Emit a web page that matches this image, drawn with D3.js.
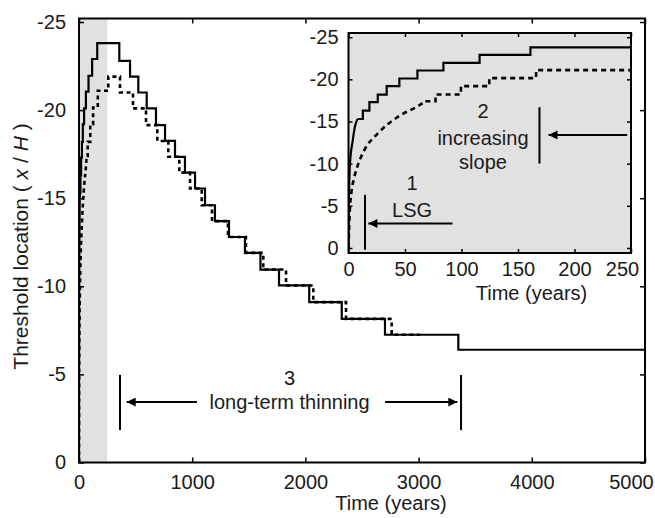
<!DOCTYPE html>
<html>
<head>
<meta charset="utf-8">
<script src="https://cdn.jsdelivr.net/npm/d3@7"></script>
<style>
body { margin: 0; background: #fff; }
svg text { font-family: "Liberation Sans", Arial, sans-serif; fill: #1a1a1a; }
</style>
</head>
<body>
<div id="vis"></div>
<script>
// solid curve: quick initial rise, then stair levels (time in years, x/H)
var solidRiseT = [0, 0.3, 1.3, 3.7, 5.7, 8];
var solidRiseV = [0, -5, -10, -12.7, -14.4, -15.3];
var solidStepT = [8, 12.7, 18.5, 25.9, 33.8, 45, 61, 84, 116, 161, 356, 451, 524, 598, 680, 760, 848, 936, 1025, 1113, 1201, 1325, 1466, 1603, 1767, 2034, 2321, 2703, 3351, 5000];
var solidStepV = [-15.3, -16.3, -17.3, -18.2, -19.2, -20.1, -21.05, -21.95, -22.9, -23.8, -22.8, -21.9, -21.0, -20.1, -19.15, -18.25, -17.35, -16.45, -15.55, -14.6, -13.7, -12.8, -11.9, -10.95, -10.05, -9.1, -8.15, -7.25, -6.4, -6.4];

// dotted curve
var dotRiseT = [0, 1, 2.5, 5, 8.2, 14, 26, 35, 48, 60, 68];
var dotRiseV = [0, -4, -6.5, -8.3, -9.8, -11.6, -13.6, -14.7, -15.9, -16.7, -17.4];
var dotStepT = [68, 77, 99.5, 124.6, 166, 259, 362, 477, 592, 692, 789, 886, 981, 1084, 1175, 1316, 1475, 1628, 1829, 2070, 2359, 2762, 3012];
var dotStepV = [-17.4, -18.2, -19.2, -20.15, -21.1, -21.9, -21.0, -20.1, -19.15, -18.25, -17.35, -16.45, -15.55, -14.6, -13.7, -12.8, -11.9, -10.95, -10.05, -9.1, -8.15, -7.25, -7.25];

var mainXTicks = [0, 1000, 2000, 3000, 4000, 5000];
var mainYTicks = [0, -5, -10, -15, -20, -25];
var insetXTicks = [0, 50, 100, 150, 200, 250];
var insetYTicks = [0, -5, -10, -15, -20, -25];
var shadeEnd = 250;

// annotations, in data units
var mainBars = [{ t: 362, v0: -4.97, v1: -1.84 }, { t: 3375, v0: -4.97, v1: -1.84 }];
var mainArrows = [{ t0: 1042, t1: 421, v: -3.43 }, { t0: 2703, t1: 3342, v: -3.43 }];
var mainNotes = [{ t: 1860, v: -4.4, s: "3" }, { t: 1860, v: -3.06, s: "long-term thinning" }];
var insetBars = [{ t: 169, v0: -16.7, v1: -10.0 }, { t: 14.6, v0: -6.3, v1: 0.2 }];
var insetArrows = [{ t0: 246.6, t1: 177, v: -13.4 }, { t0: 92, t1: 17.6, v: -2.9 }];
var insetNotes = [
    { t: 119, v: -15.4, s: "2" }, { t: 119, v: -12.2, s: "increasing" }, { t: 119, v: -9.4, s: "slope" },
    { t: 56.3, v: -6.9, s: "1" }, { t: 56.3, v: -3.7, s: "LSG" }
];

var width = 655, height = 518;
var svg = d3.select('#vis').append('svg').attr('width', width).attr('height', height);

var defs = svg.append('defs');
defs.append('marker')
    .attr('id', 'ah')
    .attr('viewBox', '0 0 10 10')
    .attr('refX', 10).attr('refY', 5)
    .attr('markerWidth', 10).attr('markerHeight', 9)
    .attr('markerUnits', 'userSpaceOnUse')
    .attr('orient', 'auto')
    .append('path').attr('d', 'M0,0L10,5L0,10z').attr('fill', '#000');

function zip(ts, vs) { return ts.map((t, i) => [t, vs[i]]); }

function panel(opts) {
    var x = d3.scaleLinear().domain(opts.xd).range(opts.xr);
    var y = d3.scaleLinear().domain(opts.yd).range(opts.yr);
    var g = svg.append('g');
    var x0 = opts.xr[0], x1 = opts.xr[1], y0 = opts.yr[1], y1 = opts.yr[0];

    defs.append('clipPath').attr('id', opts.id)
        .append('rect').attr('x', x0).attr('y', y0).attr('width', x1 - x0).attr('height', y1 - y0);

    if (opts.bg) {
        g.append('rect').attr('x', x0).attr('y', y0).attr('width', x1 - x0).attr('height', y1 - y0)
            .attr('fill', opts.bg);
    }
    if (opts.shade) {
        g.append('rect').attr('x', x(0)).attr('y', y0).attr('width', x(opts.shade) - x(0)).attr('height', y1 - y0)
            .attr('fill', '#e1e1e1');
    }

    var lines = g.append('g').attr('clip-path', 'url(#' + opts.id + ')');
    var rise = d3.line().x(d => x(d[0])).y(d => y(d[1])).curve(d3.curveMonotoneX);
    var stair = d3.line().x(d => x(d[0])).y(d => y(d[1])).curve(d3.curveStepAfter);

    [[dotRiseT, dotRiseV, dotStepT, dotStepV, true], [solidRiseT, solidRiseV, solidStepT, solidStepV, false]]
        .forEach(function (s) {
            [rise(zip(s[0], s[1])), stair(zip(s[2], s[3]))].forEach(function (d) {
                lines.append('path').attr('d', d)
                    .attr('fill', 'none').attr('stroke', '#000')
                    .attr('stroke-width', s[4] ? 2.6 : 2.2)
                    .attr('stroke-dasharray', s[4] ? opts.dash : null);
            });
        });

    // axes, inward ticks on all sides
    function style(a) {
        a.select('.domain').remove();
        a.selectAll('.tick line').attr('stroke-width', 1.5);
        a.attr('font-size', 20).attr('font-family', '"Liberation Sans", Arial, sans-serif');
        return a;
    }
    var fmt = d => String(d);
    var bx = style(g.append('g').attr('transform', 'translate(0,' + y1 + ')')
        .call(d3.axisBottom(x).tickValues(opts.xt).tickSize(-opts.tick).tickSizeOuter(0).tickPadding(opts.padX).tickFormat(fmt)));
    bx.selectAll('.tick:last-of-type text').attr('dx', opts.lastDx);
    style(g.append('g').attr('transform', 'translate(0,' + y0 + ')')
        .call(d3.axisTop(x).tickValues(opts.xt).tickSize(-opts.tick).tickSizeOuter(0).tickFormat('')));
    style(g.append('g').attr('transform', 'translate(' + x0 + ',0)')
        .call(d3.axisLeft(y).tickValues(opts.yt).tickSize(-opts.tick).tickSizeOuter(0).tickPadding(opts.padY).tickFormat(fmt)));
    style(g.append('g').attr('transform', 'translate(' + x1 + ',0)')
        .call(d3.axisRight(y).tickValues(opts.yt).tickSize(-opts.tick).tickSizeOuter(0).tickFormat('')));

    g.append('rect').attr('x', x0).attr('y', y0).attr('width', x1 - x0).attr('height', y1 - y0)
        .attr('fill', 'none').attr('stroke', '#000').attr('stroke-width', 2);

    // annotations
    opts.bars.forEach(function (b) {
        g.append('line').attr('x1', x(b.t)).attr('x2', x(b.t)).attr('y1', y(b.v0)).attr('y2', y(b.v1))
            .attr('stroke', '#000').attr('stroke-width', 2);
    });
    opts.arrows.forEach(function (a) {
        g.append('line').attr('x1', x(a.t0)).attr('x2', x(a.t1)).attr('y1', y(a.v)).attr('y2', y(a.v))
            .attr('stroke', '#000').attr('stroke-width', 2).attr('marker-end', 'url(#ah)');
    });
    opts.notes.forEach(function (n) {
        g.append('text').attr('x', x(n.t)).attr('y', y(n.v)).attr('text-anchor', 'middle')
            .attr('font-size', 20).text(n.s);
    });

    g.append('text').attr('x', opts.xLabel[0]).attr('y', opts.xLabel[1]).attr('text-anchor', 'middle')
        .attr('font-size', 20).text('Time (years)');
    return g;
}

panel({
    id: 'clipMain', xd: [0, 5000], xr: [79, 645], yd: [0, -25.2], yr: [462.5, 18.5],
    xt: mainXTicks, yt: mainYTicks, tick: 5, padX: 12, padY: 13, lastDx: -14,
    shade: shadeEnd, dash: '4,3.5',
    bars: mainBars, arrows: mainArrows, notes: mainNotes, xLabel: [391, 510]
});

panel({
    id: 'clipInset', xd: [0, 250], xr: [348.5, 631], yd: [0.6, -25.5], yr: [253, 33],
    xt: insetXTicks, yt: insetYTicks, tick: 4, padX: 9, padY: 10, lastDx: -9,
    bg: '#e1e1e1', dash: '5,4',
    bars: insetBars, arrows: insetArrows, notes: insetNotes, xLabel: [531.5, 300]
});

// y axis title
var yt = svg.append('text')
    .attr('transform', 'translate(28,246.5) rotate(-90)')
    .attr('text-anchor', 'middle')
    .attr('fill', '#1a1a1a')
    .attr('font-size', 21);
yt.append('tspan').text('Threshold location ( ');
yt.append('tspan').attr('font-style', 'italic').text('x');
yt.append('tspan').text(' / ');
yt.append('tspan').attr('font-style', 'italic').text('H');
yt.append('tspan').text(' )');
</script>
</body>
</html>
